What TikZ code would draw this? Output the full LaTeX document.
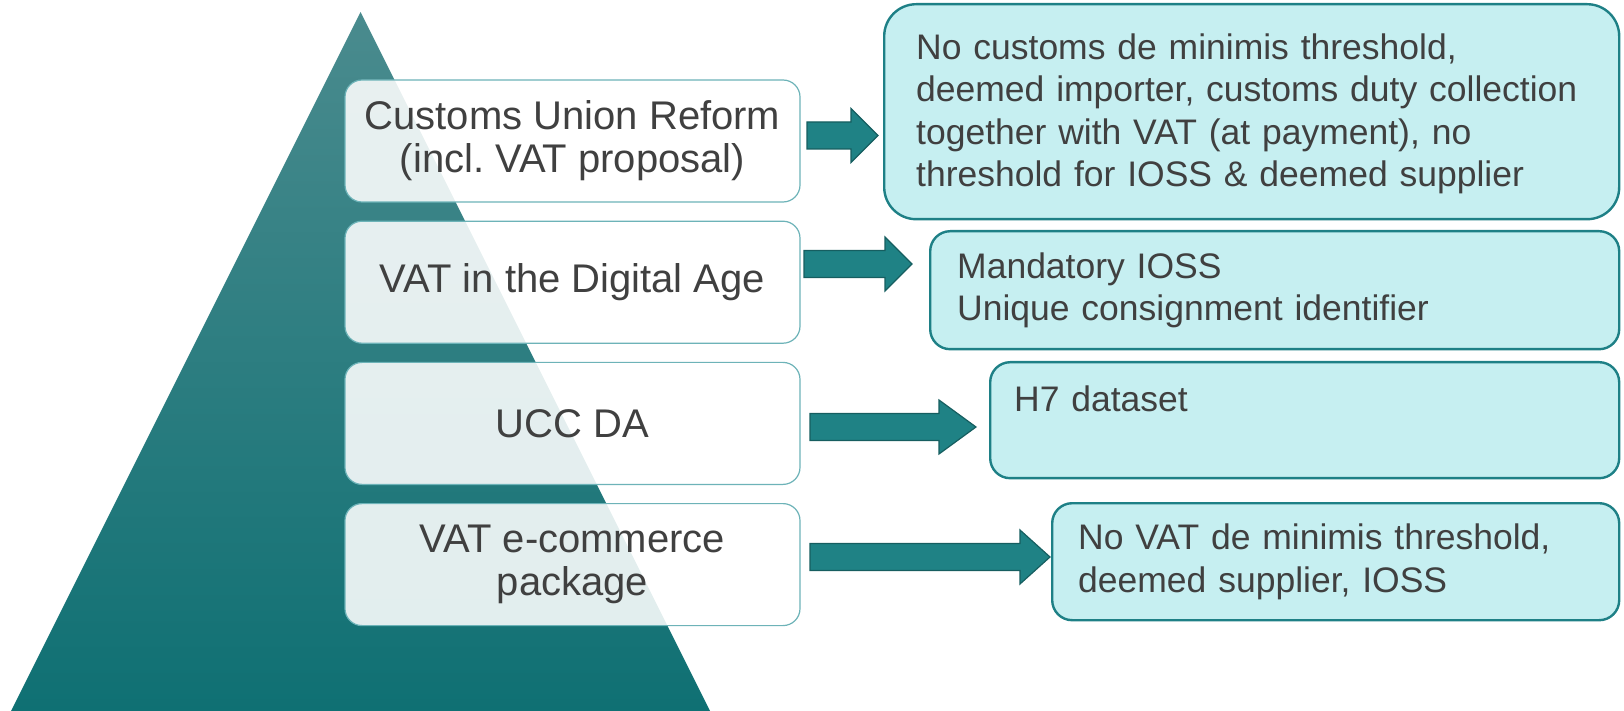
\documentclass[tikz,border=0pt]{standalone}
\usepackage{fontspec}
\setmainfont{Liberation Sans}
\usetikzlibrary{positioning,calc}

\definecolor{pyrtop}{HTML}{4A8B8E}
\definecolor{pyrbot}{HTML}{0F7073}
\definecolor{stepline}{HTML}{6DB3B8}
\definecolor{notefill}{HTML}{C6EFF1}
\definecolor{noteline}{HTML}{1E8086}
\definecolor{arrfill}{HTML}{1F8285}
\definecolor{arrline}{HTML}{165E60}
\definecolor{txt}{HTML}{404040}

% block arrow: start, tip, head length
\newcommand\blockarrow[3]{%
  \filldraw[fill=arrfill, draw=arrline, line width=0.6pt, line join=miter]
    let \p1=(#1), \p2=(#2) in
    (\x1,\y1+6.75pt) -- (\x2-#3,\y1+6.75pt) -- (\x2-#3,\y1+13.5pt) -- (\x2,\y2)
    -- (\x2-#3,\y1-13.5pt) -- (\x2-#3,\y1-6.75pt) -- (\x1,\y1-6.75pt) -- cycle;}

\begin{document}
\begin{tikzpicture}[x=0.5pt, y=-0.5pt, node distance=9pt,
    level/.style = {draw=stepline, line width=0.6pt, fill=white, fill opacity=0.88, text opacity=1,
      rounded corners=8.5pt, minimum width=227.5pt, minimum height=61pt, align=center,
      text=txt, font=\fontsize{20}{21.5}\selectfont},
    note/.style = {draw=noteline, line width=1.2pt, fill=notefill, rounded corners=10pt,
      anchor=north west, align=left, text=txt, font=\fontsize{17.75}{21.3}\selectfont}]
    \useasboundingbox (0,0) rectangle (1624,711);

    \shade[top color=pyrtop, bottom color=pyrbot] (360.5,12) -- (710,711) -- (11,711) -- cycle;

    \node[level] (l_1) at (572.5,141) {Customs Union Reform\\(incl.\ VAT proposal)};
    \node[level] (l_2) [below=of l_1] {VAT in the Digital Age};
    \node[level] (l_3) [below=of l_2] {UCC DA};
    \node[level] (l_4) [below=of l_3] {VAT e-commerce\\package};

    \node[note, rounded corners=16pt, inner xsep=16pt, text width=335.5pt, minimum height=107.5pt] (r_1) at (883,3)
        {\rule{0pt}{15pt}No customs de minimis threshold,\\deemed importer, customs duty collection\\together with VAT (at payment), no\\threshold for IOSS \& deemed supplier};
    \node[note, inner xsep=13.5pt, text width=317.5pt, minimum height=59pt] (r_2) at (929,230)
        {Mandatory IOSS\\Unique consignment identifier};
    \node[note, inner xsep=12pt, inner ysep=0pt, text width=290.5pt, text height=24.5pt, text depth=33.5pt] (r_3) at (989,361)
        {H7 dataset};
    \node[note, inner xsep=13pt, text width=257.5pt, minimum height=58.5pt] (r_4) at (1051,502)
        {No VAT de minimis threshold,\\deemed supplier, IOSS};

    \coordinate (a_1) at (807,135.5);  \coordinate (t_1) at (878,135.5);
    \coordinate (a_2) at (804,264);    \coordinate (t_2) at (912,264);
    \coordinate (a_3) at (810,427);    \coordinate (t_3) at (976,427);
    \coordinate (a_4) at (810,557);    \coordinate (t_4) at (1050,557);

    \blockarrow{a_1}{t_1}{13.5pt}
    \blockarrow{a_2}{t_2}{13.5pt}
    \blockarrow{a_3}{t_3}{18.5pt}
    \blockarrow{a_4}{t_4}{15pt}
\end{tikzpicture}
\end{document}
